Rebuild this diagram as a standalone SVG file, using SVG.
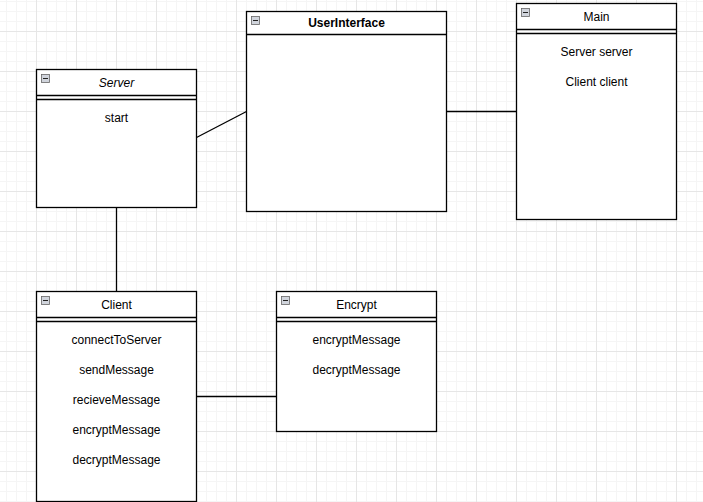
<svg xmlns="http://www.w3.org/2000/svg" width="703" height="502" viewBox="0 0 703 502">
<style>
.box{fill:#fff;stroke:#000;stroke-width:1.3}
.ln{stroke:#000;stroke-width:1.3;fill:none}
.t{font-family:"Liberation Sans",Arial,sans-serif;font-size:12px;fill:#000;text-anchor:middle}
.it{font-style:italic}
.b{font-weight:bold}
.ic{fill:#d0d4dc;stroke:#666;stroke-width:0.8}
.icm{stroke:#222;stroke-width:1}
</style>
<defs>
<pattern id="minor" patternUnits="userSpaceOnUse" x="6" y="1" width="10" height="10">
<path d="M0.5 0V10M0 0.5H10" stroke="#f5f5f5" stroke-width="1" fill="none"/>
</pattern>
<pattern id="major" patternUnits="userSpaceOnUse" x="-4" y="-9" width="40" height="40">
<path d="M0.5 0V40M0 0.5H40" stroke="#e6e6e6" stroke-width="1" fill="none"/>
</pattern>
<g id="icon">
<rect class="ic" x="0" y="0" width="8" height="8"/>
<path class="icm" d="M1.5 4H6.5"/>
</g>
</defs>
<rect width="703" height="502" fill="#fff"/>
<rect width="703" height="502" fill="url(#minor)"/>
<rect width="703" height="502" fill="url(#major)"/>

<g id="connectors">
<path class="ln" d="M196.5 137.5L246.5 111.5"/>
<path class="ln" d="M446.5 111.5H516.5"/>
<path class="ln" d="M116.5 207.5V291.5"/>
<path class="ln" d="M196.5 396.5H276.5"/>
</g>

<g id="Server">
<rect class="box" x="36.5" y="69.5" width="160" height="138"/>
<path class="ln" d="M36.5 95.5H196.5M36.5 99.5H196.5"/>
<use href="#icon" x="41.5" y="74.5"/>
<text class="t it" x="116.5" y="86.5">Server</text>
<text class="t" x="116.5" y="122">start</text>
</g>

<g id="UserInterface">
<rect class="box" x="246.5" y="11.5" width="200" height="200"/>
<path class="ln" d="M246.5 34.5H446.5"/>
<use href="#icon" x="251.5" y="16.5"/>
<text class="t b" x="346.5" y="27">UserInterface</text>
</g>

<g id="Main">
<rect class="box" x="516.5" y="3.5" width="160" height="216"/>
<path class="ln" d="M516.5 29.5H676.5M516.5 33.5H676.5"/>
<use href="#icon" x="521.5" y="8.5"/>
<text class="t" x="596.5" y="20.5">Main</text>
<text class="t" x="596.5" y="56">Server server</text>
<text class="t" x="596.5" y="86">Client client</text>
</g>

<g id="Client">
<rect class="box" x="36.5" y="291.5" width="160" height="210"/>
<path class="ln" d="M36.5 317.5H196.5M36.5 321.5H196.5"/>
<use href="#icon" x="41.5" y="296.5"/>
<text class="t" x="116.5" y="308.5">Client</text>
<text class="t" x="116.5" y="344">connectToServer</text>
<text class="t" x="116.5" y="374">sendMessage</text>
<text class="t" x="116.5" y="404">recieveMessage</text>
<text class="t" x="116.5" y="434">encryptMessage</text>
<text class="t" x="116.5" y="464">decryptMessage</text>
</g>

<g id="Encrypt">
<rect class="box" x="276.5" y="291.5" width="160" height="140"/>
<path class="ln" d="M276.5 317.5H436.5M276.5 321.5H436.5"/>
<use href="#icon" x="281.5" y="296.5"/>
<text class="t" x="356.5" y="308.5">Encrypt</text>
<text class="t" x="356.5" y="344">encryptMessage</text>
<text class="t" x="356.5" y="374">decryptMessage</text>
</g>
</svg>
